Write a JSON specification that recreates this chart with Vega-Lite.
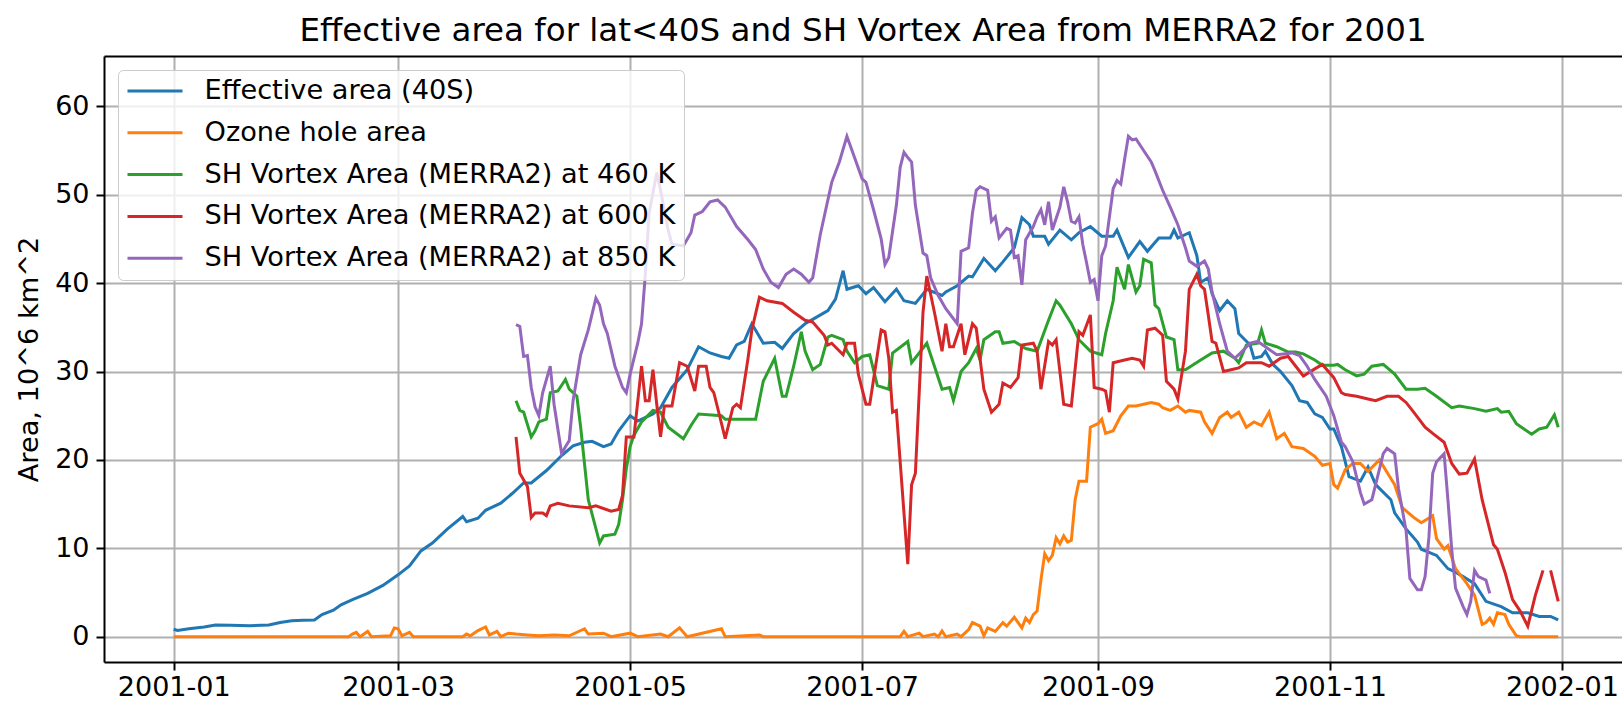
{
 "$schema": "https://vega.github.io/schema/vega-lite/v6.json",
 "width": 1518,
 "height": 606,
 "autosize": {"type": "none"},
 "padding": {"left": 104, "top": 56, "right": 0, "bottom": 45},
 "background": "white",
 "title": {"text": "Effective area for lat<40S and SH Vortex Area from MERRA2 for 2001", "font": "DejaVu Sans", "fontSize": 32.5, "fontWeight": "normal", "color": "black", "anchor": "middle", "baseline": "alphabetic", "offset": 11, "dy": 28},
 "config": {
  "font": "DejaVu Sans",
  "view": {"stroke": null},
  "axis": {"labelFont": "DejaVu Sans", "labelFontSize": 27, "labelColor": "black", "titleFont": "DejaVu Sans", "titleFontSize": 27.2, "titleFontWeight": "normal", "titleColor": "black", "domainColor": "black", "domainWidth": 2, "tickColor": "black", "tickWidth": 2, "tickSize": 8, "gridColor": "#b0b0b0", "gridWidth": 2, "gridOpacity": 1, "labelPadding": 7},
  "line": {"strokeWidth": 3}
 },
 "resolve": {"axis": {"x": "independent"}},
 "layer": [
  {
   "data": {"values": [
    {"t":"2001-01-01","v":0.84},{"t":"2001-01-02","v":0.7},{"t":"2001-01-05","v":0.9},{"t":"2001-01-09","v":1.1},{"t":"2001-01-12","v":1.33},{"t":"2001-01-16","v":1.3},{"t":"2001-01-21","v":1.25},{"t":"2001-01-26","v":1.33},{"t":"2001-01-29","v":1.6},{"t":"2001-02-01","v":1.8},{"t":"2001-02-04","v":1.85},{"t":"2001-02-07","v":1.9},{"t":"2001-02-09","v":2.5},{"t":"2001-02-12","v":3.0},{"t":"2001-02-14","v":3.6},{"t":"2001-02-17","v":4.2},{"t":"2001-02-21","v":4.9},{"t":"2001-02-25","v":5.8},{"t":"2001-03-01","v":7.0},{"t":"2001-03-04","v":8.0},{"t":"2001-03-07","v":9.7},{"t":"2001-03-10","v":10.6},{"t":"2001-03-14","v":12.2},{"t":"2001-03-18","v":13.6},{"t":"2001-03-19","v":13.0},{"t":"2001-03-22","v":13.4},{"t":"2001-03-24","v":14.3},{"t":"2001-03-28","v":15.1},{"t":"2001-03-31","v":16.2},{"t":"2001-04-03","v":17.4},{"t":"2001-04-05","v":17.4},{"t":"2001-04-09","v":18.8},{"t":"2001-04-13","v":20.5},{"t":"2001-04-16","v":21.6},{"t":"2001-04-19","v":22.0},{"t":"2001-04-21","v":22.1},{"t":"2001-04-24","v":21.5},{"t":"2001-04-26","v":21.8},{"t":"2001-04-28","v":23.3},{"t":"2001-05-01","v":25.0},{"t":"2001-05-03","v":24.4},{"t":"2001-05-07","v":25.2},{"t":"2001-05-09","v":25.9},{"t":"2001-05-12","v":28.2},{"t":"2001-05-16","v":30.2},{"t":"2001-05-19","v":32.8},{"t":"2001-05-22","v":32.1},{"t":"2001-05-25","v":31.7},{"t":"2001-05-27","v":31.5},{"t":"2001-05-29","v":33.0},{"t":"2001-05-31","v":33.4},{"t":"2001-06-02","v":35.4},{"t":"2001-06-05","v":33.2},{"t":"2001-06-08","v":33.3},{"t":"2001-06-10","v":32.6},{"t":"2001-06-13","v":34.3},{"t":"2001-06-16","v":35.4},{"t":"2001-06-18","v":35.9},{"t":"2001-06-22","v":36.9},{"t":"2001-06-24","v":38.2},{"t":"2001-06-26","v":41.4},{"t":"2001-06-27","v":39.3},{"t":"2001-06-30","v":39.7},{"t":"2001-07-02","v":38.8},{"t":"2001-07-04","v":39.5},{"t":"2001-07-07","v":37.9},{"t":"2001-07-10","v":39.3},{"t":"2001-07-12","v":38.0},{"t":"2001-07-15","v":37.7},{"t":"2001-07-18","v":39.3},{"t":"2001-07-22","v":38.6},{"t":"2001-07-23","v":39.0},{"t":"2001-07-26","v":39.7},{"t":"2001-07-29","v":40.8},{"t":"2001-07-30","v":40.7},{"t":"2001-08-02","v":42.8},{"t":"2001-08-05","v":41.4},{"t":"2001-08-07","v":42.4},{"t":"2001-08-10","v":44.0},{"t":"2001-08-12","v":47.4},{"t":"2001-08-14","v":46.6},{"t":"2001-08-15","v":45.3},{"t":"2001-08-18","v":45.3},{"t":"2001-08-19","v":44.4},{"t":"2001-08-22","v":46.0},{"t":"2001-08-25","v":44.9},{"t":"2001-08-27","v":45.7},{"t":"2001-08-30","v":46.4},{"t":"2001-09-02","v":45.3},{"t":"2001-09-05","v":45.3},{"t":"2001-09-06","v":46.0},{"t":"2001-09-09","v":42.9},{"t":"2001-09-12","v":44.7},{"t":"2001-09-14","v":43.6},{"t":"2001-09-17","v":45.1},{"t":"2001-09-20","v":45.1},{"t":"2001-09-21","v":46.0},{"t":"2001-09-22","v":45.1},{"t":"2001-09-25","v":45.7},{"t":"2001-09-27","v":43.1},{"t":"2001-09-28","v":40.1},{"t":"2001-09-30","v":40.6},{"t":"2001-10-01","v":38.8},{"t":"2001-10-03","v":36.9},{"t":"2001-10-05","v":38.0},{"t":"2001-10-07","v":37.1},{"t":"2001-10-08","v":34.3},{"t":"2001-10-11","v":33.0},{"t":"2001-10-12","v":31.5},{"t":"2001-10-14","v":31.7},{"t":"2001-10-15","v":32.3},{"t":"2001-10-17","v":30.8},{"t":"2001-10-19","v":30.0},{"t":"2001-10-22","v":28.4},{"t":"2001-10-24","v":26.7},{"t":"2001-10-26","v":26.5},{"t":"2001-10-28","v":25.2},{"t":"2001-10-30","v":24.8},{"t":"2001-11-01","v":23.5},{"t":"2001-11-02","v":23.5},{"t":"2001-11-04","v":21.5},{"t":"2001-11-06","v":18.1},{"t":"2001-11-09","v":17.6},{"t":"2001-11-11","v":19.2},{"t":"2001-11-13","v":17.2},{"t":"2001-11-17","v":15.5},{"t":"2001-11-18","v":14.0},{"t":"2001-11-21","v":12.2},{"t":"2001-11-24","v":10.7},{"t":"2001-11-25","v":9.9},{"t":"2001-11-29","v":9.2},{"t":"2001-12-02","v":7.7},{"t":"2001-12-04","v":7.3},{"t":"2001-12-06","v":6.8},{"t":"2001-12-09","v":6.0},{"t":"2001-12-12","v":4.0},{"t":"2001-12-16","v":3.4},{"t":"2001-12-19","v":2.7},{"t":"2001-12-23","v":2.7},{"t":"2001-12-26","v":2.3},{"t":"2001-12-29","v":2.3},{"t":"2001-12-31","v":1.9}
   ]},
   "mark": {"type": "line", "strokeWidth": 3},
   "encoding": {
    "x": {"field": "t", "type": "temporal", "title": null,
     "scale": {"type": "utc", "domain": [{"year": 2000, "month": 12, "date": 13, "hours": 16, "minutes": 19, "utc": true}, {"year": 2002, "month": 1, "date": 16, "hours": 18, "minutes": 29, "utc": true}], "nice": false},
     "axis": {"orient": "bottom", "grid": true, "format": "%Y-%m", "labelFlush": false, "labelOverlap": false, "labelPadding": 4,
      "values": [{"year": 2001, "month": 1, "date": 1, "utc": true}, {"year": 2001, "month": 3, "date": 1, "utc": true}, {"year": 2001, "month": 5, "date": 1, "utc": true}, {"year": 2001, "month": 7, "date": 1, "utc": true}, {"year": 2001, "month": 9, "date": 1, "utc": true}, {"year": 2001, "month": 11, "date": 1, "utc": true}, {"year": 2002, "month": 1, "date": 1, "utc": true}]}},
    "y": {"field": "v", "type": "quantitative", "title": "Area, 10^6 km^2",
     "scale": {"domain": [-2.86, 65.69], "nice": false, "zero": false},
     "axis": {"values": [0, 10, 20, 30, 40, 50, 60], "grid": true, "titlePadding": 11}},
    "color": {"datum": "Effective area (40S)", "type": "nominal",
     "scale": {"domain": ["Effective area (40S)", "Ozone hole area", "SH Vortex Area (MERRA2) at 460 K", "SH Vortex Area (MERRA2) at 600 K", "SH Vortex Area (MERRA2) at 850 K"], "range": ["#1f77b4", "#ff7f0e", "#2ca02c", "#d62728", "#9467bd"]},
     "legend": {"title": null, "orient": "top-left", "offset": 14, "zindex": 2, "symbolType": "stroke", "symbolSize": 3025, "symbolStrokeWidth": 3, "clipHeight": 26, "labelFont": "DejaVu Sans", "labelFontSize": 27.2, "labelColor": "black", "labelOffset": 20.5, "labelLimit": 0, "padding": 8, "rowPadding": 13.8, "fillColor": "rgba(255,255,255,0.8)", "strokeColor": "#cccccc", "cornerRadius": 5}}
   }
  },
  {
   "data": {"values": [
    {"t":"2001-01-01","v":0},{"t":"2001-02-16","v":0},{"t":"2001-02-17","v":0.3},{"t":"2001-02-18","v":0.5},{"t":"2001-02-19","v":0},{"t":"2001-02-21","v":0.6},{"t":"2001-02-22","v":0},{"t":"2001-02-27","v":0.1},{"t":"2001-02-28","v":1.0},{"t":"2001-03-01","v":0.9},{"t":"2001-03-02","v":0.1},{"t":"2001-03-04","v":0.5},{"t":"2001-03-05","v":0},{"t":"2001-03-18","v":0},{"t":"2001-03-19","v":0.3},{"t":"2001-03-20","v":0.1},{"t":"2001-03-22","v":0.7},{"t":"2001-03-24","v":1.1},{"t":"2001-03-25","v":0.2},{"t":"2001-03-27","v":0.6},{"t":"2001-03-28","v":0},{"t":"2001-03-30","v":0.4},{"t":"2001-04-01","v":0.3},{"t":"2001-04-04","v":0.2},{"t":"2001-04-07","v":0.1},{"t":"2001-04-11","v":0.2},{"t":"2001-04-15","v":0.1},{"t":"2001-04-19","v":0.9},{"t":"2001-04-20","v":0.3},{"t":"2001-04-24","v":0.4},{"t":"2001-04-26","v":0},{"t":"2001-05-01","v":0.4},{"t":"2001-05-03","v":0},{"t":"2001-05-09","v":0.3},{"t":"2001-05-11","v":0},{"t":"2001-05-14","v":1.0},{"t":"2001-05-16","v":0},{"t":"2001-05-25","v":0.9},{"t":"2001-05-26","v":0},{"t":"2001-06-04","v":0.2},{"t":"2001-06-05","v":0},{"t":"2001-07-11","v":0},{"t":"2001-07-12","v":0.6},{"t":"2001-07-13","v":0},{"t":"2001-07-16","v":0.4},{"t":"2001-07-17","v":0},{"t":"2001-07-20","v":0.3},{"t":"2001-07-21","v":0},{"t":"2001-07-22","v":0.65},{"t":"2001-07-23","v":0},{"t":"2001-07-26","v":0.3},{"t":"2001-07-27","v":0},{"t":"2001-07-29","v":0.8},{"t":"2001-07-30","v":1.6},{"t":"2001-08-01","v":1.2},{"t":"2001-08-02","v":0.1},{"t":"2001-08-03","v":1.0},{"t":"2001-08-05","v":0.6},{"t":"2001-08-07","v":1.6},{"t":"2001-08-08","v":1.2},{"t":"2001-08-10","v":2.2},{"t":"2001-08-12","v":1.0},{"t":"2001-08-13","v":2.1},{"t":"2001-08-14","v":1.6},{"t":"2001-08-15","v":2.5},{"t":"2001-08-16","v":2.9},{"t":"2001-08-17","v":6.4},{"t":"2001-08-18","v":9.4},{"t":"2001-08-19","v":8.6},{"t":"2001-08-20","v":9.2},{"t":"2001-08-21","v":11.2},{"t":"2001-08-22","v":10.5},{"t":"2001-08-23","v":11.4},{"t":"2001-08-24","v":10.7},{"t":"2001-08-25","v":10.9},{"t":"2001-08-26","v":15.5},{"t":"2001-08-27","v":17.6},{"t":"2001-08-29","v":17.6},{"t":"2001-08-30","v":23.7},{"t":"2001-09-01","v":24.1},{"t":"2001-09-02","v":24.6},{"t":"2001-09-03","v":23.0},{"t":"2001-09-05","v":23.3},{"t":"2001-09-07","v":25.0},{"t":"2001-09-09","v":26.1},{"t":"2001-09-11","v":26.1},{"t":"2001-09-13","v":26.3},{"t":"2001-09-15","v":26.5},{"t":"2001-09-17","v":26.3},{"t":"2001-09-18","v":25.9},{"t":"2001-09-20","v":25.6},{"t":"2001-09-22","v":26.1},{"t":"2001-09-24","v":25.4},{"t":"2001-09-25","v":25.6},{"t":"2001-09-28","v":25.4},{"t":"2001-09-29","v":24.3},{"t":"2001-10-01","v":23.0},{"t":"2001-10-03","v":24.8},{"t":"2001-10-05","v":25.4},{"t":"2001-10-06","v":24.8},{"t":"2001-10-08","v":25.4},{"t":"2001-10-10","v":23.7},{"t":"2001-10-12","v":24.3},{"t":"2001-10-14","v":23.9},{"t":"2001-10-16","v":25.4},{"t":"2001-10-18","v":22.4},{"t":"2001-10-20","v":23.0},{"t":"2001-10-22","v":21.5},{"t":"2001-10-25","v":21.3},{"t":"2001-10-28","v":20.4},{"t":"2001-10-30","v":19.4},{"t":"2001-11-01","v":19.6},{"t":"2001-11-02","v":17.2},{"t":"2001-11-03","v":16.8},{"t":"2001-11-05","v":18.9},{"t":"2001-11-07","v":19.6},{"t":"2001-11-09","v":19.6},{"t":"2001-11-11","v":18.7},{"t":"2001-11-14","v":20.0},{"t":"2001-11-17","v":17.9},{"t":"2001-11-18","v":17.2},{"t":"2001-11-20","v":14.6},{"t":"2001-11-23","v":13.5},{"t":"2001-11-25","v":12.9},{"t":"2001-11-28","v":13.7},{"t":"2001-11-29","v":11.1},{"t":"2001-12-01","v":9.9},{"t":"2001-12-02","v":10.3},{"t":"2001-12-04","v":7.7},{"t":"2001-12-07","v":6.0},{"t":"2001-12-09","v":4.7},{"t":"2001-12-11","v":1.4},{"t":"2001-12-12","v":1.6},{"t":"2001-12-13","v":2.1},{"t":"2001-12-14","v":1.4},{"t":"2001-12-15","v":2.7},{"t":"2001-12-17","v":2.5},{"t":"2001-12-18","v":1.4},{"t":"2001-12-20","v":0.1},{"t":"2001-12-21","v":0},{"t":"2001-12-31","v":0}
   ]},
   "mark": {"type": "line", "strokeWidth": 3},
   "encoding": {
    "x": {"field": "t", "type": "temporal", "axis": {"orient": "top", "labels": false, "ticks": false, "grid": false, "domain": true, "title": null}},
    "y": {"field": "v", "type": "quantitative"},
    "color": {"datum": "Ozone hole area", "type": "nominal"}
   }
  },
  {
   "data": {"values": [
    {"t":"2001-04-01","v":26.7},{"t":"2001-04-02","v":25.6},{"t":"2001-04-03","v":25.4},{"t":"2001-04-05","v":22.6},{"t":"2001-04-06","v":23.3},{"t":"2001-04-07","v":24.3},{"t":"2001-04-09","v":24.6},{"t":"2001-04-10","v":27.6},{"t":"2001-04-12","v":27.8},{"t":"2001-04-14","v":29.1},{"t":"2001-04-15","v":28.0},{"t":"2001-04-17","v":27.2},{"t":"2001-04-18","v":23.7},{"t":"2001-04-20","v":15.5},{"t":"2001-04-23","v":10.6},{"t":"2001-04-24","v":11.4},{"t":"2001-04-27","v":11.6},{"t":"2001-04-28","v":12.7},{"t":"2001-04-29","v":15.5},{"t":"2001-04-30","v":19.0},{"t":"2001-05-01","v":21.5},{"t":"2001-05-02","v":22.8},{"t":"2001-05-04","v":24.3},{"t":"2001-05-07","v":25.6},{"t":"2001-05-09","v":25.4},{"t":"2001-05-11","v":23.7},{"t":"2001-05-15","v":22.4},{"t":"2001-05-17","v":23.9},{"t":"2001-05-19","v":25.2},{"t":"2001-05-25","v":25.0},{"t":"2001-05-26","v":24.6},{"t":"2001-06-03","v":24.6},{"t":"2001-06-05","v":28.9},{"t":"2001-06-08","v":31.5},{"t":"2001-06-10","v":27.2},{"t":"2001-06-11","v":27.2},{"t":"2001-06-13","v":30.6},{"t":"2001-06-15","v":34.5},{"t":"2001-06-16","v":32.3},{"t":"2001-06-18","v":30.2},{"t":"2001-06-20","v":30.8},{"t":"2001-06-22","v":33.9},{"t":"2001-06-23","v":34.1},{"t":"2001-06-26","v":33.6},{"t":"2001-06-27","v":32.3},{"t":"2001-06-29","v":31.0},{"t":"2001-07-01","v":31.7},{"t":"2001-07-03","v":31.9},{"t":"2001-07-05","v":28.4},{"t":"2001-07-08","v":28.0},{"t":"2001-07-09","v":32.1},{"t":"2001-07-13","v":33.4},{"t":"2001-07-14","v":31.0},{"t":"2001-07-18","v":33.2},{"t":"2001-07-19","v":31.9},{"t":"2001-07-22","v":28.0},{"t":"2001-07-24","v":28.2},{"t":"2001-07-25","v":26.7},{"t":"2001-07-27","v":30.0},{"t":"2001-07-29","v":31.0},{"t":"2001-07-31","v":32.6},{"t":"2001-08-01","v":31.3},{"t":"2001-08-02","v":33.6},{"t":"2001-08-05","v":34.5},{"t":"2001-08-06","v":34.5},{"t":"2001-08-07","v":33.2},{"t":"2001-08-10","v":33.4},{"t":"2001-08-13","v":32.6},{"t":"2001-08-16","v":32.3},{"t":"2001-08-19","v":35.8},{"t":"2001-08-21","v":38.0},{"t":"2001-08-22","v":37.5},{"t":"2001-08-25","v":35.4},{"t":"2001-08-27","v":33.6},{"t":"2001-08-30","v":32.3},{"t":"2001-09-02","v":31.9},{"t":"2001-09-03","v":34.3},{"t":"2001-09-05","v":38.0},{"t":"2001-09-06","v":41.8},{"t":"2001-09-08","v":39.3},{"t":"2001-09-09","v":42.1},{"t":"2001-09-11","v":39.0},{"t":"2001-09-12","v":39.7},{"t":"2001-09-13","v":42.7},{"t":"2001-09-15","v":42.3},{"t":"2001-09-16","v":37.5},{"t":"2001-09-17","v":37.1},{"t":"2001-09-19","v":33.9},{"t":"2001-09-21","v":33.6},{"t":"2001-09-22","v":30.2},{"t":"2001-09-24","v":30.2},{"t":"2001-09-28","v":31.3},{"t":"2001-10-01","v":32.1},{"t":"2001-10-04","v":32.3},{"t":"2001-10-07","v":31.5},{"t":"2001-10-08","v":31.0},{"t":"2001-10-10","v":33.0},{"t":"2001-10-13","v":33.2},{"t":"2001-10-14","v":34.7},{"t":"2001-10-15","v":33.2},{"t":"2001-10-18","v":32.8},{"t":"2001-10-21","v":32.2},{"t":"2001-10-23","v":32.2},{"t":"2001-10-25","v":32.0},{"t":"2001-10-28","v":31.3},{"t":"2001-10-30","v":30.7},{"t":"2001-11-02","v":30.7},{"t":"2001-11-03","v":30.8},{"t":"2001-11-05","v":30.2},{"t":"2001-11-08","v":29.5},{"t":"2001-11-10","v":29.7},{"t":"2001-11-12","v":30.6},{"t":"2001-11-15","v":30.8},{"t":"2001-11-18","v":29.7},{"t":"2001-11-21","v":28.0},{"t":"2001-11-24","v":28.0},{"t":"2001-11-26","v":28.1},{"t":"2001-11-29","v":27.2},{"t":"2001-12-03","v":25.9},{"t":"2001-12-05","v":26.1},{"t":"2001-12-09","v":25.8},{"t":"2001-12-12","v":25.5},{"t":"2001-12-15","v":25.8},{"t":"2001-12-16","v":25.4},{"t":"2001-12-18","v":25.5},{"t":"2001-12-20","v":24.1},{"t":"2001-12-22","v":23.5},{"t":"2001-12-24","v":22.9},{"t":"2001-12-26","v":23.5},{"t":"2001-12-28","v":23.7},{"t":"2001-12-30","v":25.1},{"t":"2001-12-31","v":23.7}
   ]},
   "mark": {"type": "line", "strokeWidth": 3},
   "encoding": {
    "x": {"field": "t", "type": "temporal", "axis": null},
    "y": {"field": "v", "type": "quantitative"},
    "color": {"datum": "SH Vortex Area (MERRA2) at 460 K", "type": "nominal"}
   }
  },
  {
   "data": {"values": [
    {"t":"2001-04-01","v":22.6},{"t":"2001-04-02","v":18.5},{"t":"2001-04-04","v":17.0},{"t":"2001-04-05","v":13.5},{"t":"2001-04-06","v":14.0},{"t":"2001-04-08","v":14.0},{"t":"2001-04-09","v":13.7},{"t":"2001-04-10","v":14.8},{"t":"2001-04-12","v":15.1},{"t":"2001-04-15","v":14.8},{"t":"2001-04-20","v":14.6},{"t":"2001-04-22","v":14.8},{"t":"2001-04-26","v":14.2},{"t":"2001-04-28","v":14.4},{"t":"2001-04-29","v":16.0},{"t":"2001-04-30","v":22.6},{"t":"2001-05-02","v":22.6},{"t":"2001-05-04","v":30.6},{"t":"2001-05-05","v":26.7},{"t":"2001-05-06","v":26.7},{"t":"2001-05-07","v":30.2},{"t":"2001-05-08","v":26.3},{"t":"2001-05-09","v":22.6},{"t":"2001-05-10","v":26.1},{"t":"2001-05-12","v":26.1},{"t":"2001-05-14","v":31.0},{"t":"2001-05-16","v":30.6},{"t":"2001-05-18","v":27.8},{"t":"2001-05-19","v":30.6},{"t":"2001-05-21","v":30.6},{"t":"2001-05-22","v":28.2},{"t":"2001-05-23","v":27.6},{"t":"2001-05-24","v":25.9},{"t":"2001-05-26","v":22.4},{"t":"2001-05-28","v":25.9},{"t":"2001-05-29","v":26.3},{"t":"2001-05-30","v":25.9},{"t":"2001-06-01","v":31.5},{"t":"2001-06-02","v":34.7},{"t":"2001-06-04","v":38.4},{"t":"2001-06-06","v":38.0},{"t":"2001-06-10","v":37.7},{"t":"2001-06-13","v":36.7},{"t":"2001-06-16","v":35.8},{"t":"2001-06-18","v":35.6},{"t":"2001-06-21","v":34.1},{"t":"2001-06-22","v":33.0},{"t":"2001-06-23","v":33.2},{"t":"2001-06-26","v":31.9},{"t":"2001-06-27","v":33.2},{"t":"2001-06-29","v":33.2},{"t":"2001-06-30","v":29.7},{"t":"2001-07-02","v":26.3},{"t":"2001-07-03","v":26.3},{"t":"2001-07-06","v":34.7},{"t":"2001-07-07","v":34.5},{"t":"2001-07-08","v":31.5},{"t":"2001-07-09","v":25.4},{"t":"2001-07-10","v":25.6},{"t":"2001-07-13","v":8.2},{"t":"2001-07-14","v":17.2},{"t":"2001-07-15","v":18.5},{"t":"2001-07-17","v":36.7},{"t":"2001-07-18","v":40.8},{"t":"2001-07-20","v":36.7},{"t":"2001-07-22","v":32.3},{"t":"2001-07-23","v":35.4},{"t":"2001-07-24","v":32.8},{"t":"2001-07-25","v":32.8},{"t":"2001-07-27","v":35.4},{"t":"2001-07-28","v":31.9},{"t":"2001-07-30","v":35.4},{"t":"2001-07-31","v":34.9},{"t":"2001-08-02","v":28.0},{"t":"2001-08-04","v":25.4},{"t":"2001-08-06","v":26.3},{"t":"2001-08-07","v":28.7},{"t":"2001-08-09","v":28.2},{"t":"2001-08-11","v":29.3},{"t":"2001-08-12","v":33.0},{"t":"2001-08-15","v":33.2},{"t":"2001-08-16","v":32.3},{"t":"2001-08-17","v":28.0},{"t":"2001-08-19","v":33.4},{"t":"2001-08-20","v":33.0},{"t":"2001-08-21","v":33.6},{"t":"2001-08-23","v":26.3},{"t":"2001-08-25","v":26.1},{"t":"2001-08-27","v":34.5},{"t":"2001-08-28","v":34.1},{"t":"2001-08-30","v":36.4},{"t":"2001-08-31","v":28.2},{"t":"2001-09-02","v":28.0},{"t":"2001-09-03","v":27.8},{"t":"2001-09-04","v":25.4},{"t":"2001-09-05","v":31.0},{"t":"2001-09-08","v":31.3},{"t":"2001-09-10","v":31.5},{"t":"2001-09-12","v":31.3},{"t":"2001-09-13","v":30.6},{"t":"2001-09-14","v":34.7},{"t":"2001-09-16","v":34.9},{"t":"2001-09-18","v":34.1},{"t":"2001-09-19","v":28.9},{"t":"2001-09-21","v":28.0},{"t":"2001-09-22","v":26.9},{"t":"2001-09-24","v":32.3},{"t":"2001-09-25","v":39.3},{"t":"2001-09-27","v":41.0},{"t":"2001-09-28","v":39.7},{"t":"2001-09-29","v":39.3},{"t":"2001-09-30","v":36.4},{"t":"2001-10-01","v":33.4},{"t":"2001-10-02","v":33.2},{"t":"2001-10-04","v":30.0},{"t":"2001-10-06","v":30.2},{"t":"2001-10-08","v":30.4},{"t":"2001-10-10","v":31.0},{"t":"2001-10-14","v":31.0},{"t":"2001-10-16","v":30.6},{"t":"2001-10-19","v":31.5},{"t":"2001-10-21","v":31.7},{"t":"2001-10-23","v":30.6},{"t":"2001-10-25","v":29.5},{"t":"2001-10-28","v":30.3},{"t":"2001-10-30","v":30.8},{"t":"2001-11-02","v":29.3},{"t":"2001-11-04","v":27.6},{"t":"2001-11-05","v":27.4},{"t":"2001-11-08","v":27.2},{"t":"2001-11-11","v":26.9},{"t":"2001-11-13","v":26.7},{"t":"2001-11-16","v":27.2},{"t":"2001-11-19","v":27.2},{"t":"2001-11-21","v":26.5},{"t":"2001-11-23","v":25.4},{"t":"2001-11-26","v":23.7},{"t":"2001-11-28","v":23.0},{"t":"2001-12-01","v":22.0},{"t":"2001-12-03","v":19.6},{"t":"2001-12-05","v":18.4},{"t":"2001-12-07","v":18.5},{"t":"2001-12-09","v":20.1},{"t":"2001-12-11","v":15.5},{"t":"2001-12-14","v":10.4},{"t":"2001-12-15","v":9.9},{"t":"2001-12-17","v":7.3},{"t":"2001-12-19","v":4.2},{"t":"2001-12-21","v":2.9},{"t":"2001-12-23","v":1.2},{"t":"2001-12-25","v":4.7},{"t":"2001-12-27","v":7.5},{"t":"2001-12-28","v":null},{"t":"2001-12-29","v":7.5},{"t":"2001-12-31","v":4.0}
   ]},
   "mark": {"type": "line", "strokeWidth": 3, "invalid": "break-paths-show-domains"},
   "encoding": {
    "x": {"field": "t", "type": "temporal", "axis": null},
    "y": {"field": "v", "type": "quantitative"},
    "color": {"datum": "SH Vortex Area (MERRA2) at 600 K", "type": "nominal"}
   }
  },
  {
   "data": {"values": [
    {"t":"2001-04-01","v":35.3},{"t":"2001-04-02","v":35.1},{"t":"2001-04-03","v":31.7},{"t":"2001-04-04","v":31.8},{"t":"2001-04-05","v":28.2},{"t":"2001-04-06","v":26.0},{"t":"2001-04-07","v":25.0},{"t":"2001-04-08","v":27.6},{"t":"2001-04-10","v":30.6},{"t":"2001-04-11","v":26.3},{"t":"2001-04-13","v":20.7},{"t":"2001-04-14","v":21.5},{"t":"2001-04-15","v":22.2},{"t":"2001-04-16","v":26.7},{"t":"2001-04-18","v":31.9},{"t":"2001-04-20","v":34.7},{"t":"2001-04-22","v":38.3},{"t":"2001-04-23","v":37.5},{"t":"2001-04-24","v":35.4},{"t":"2001-04-25","v":34.3},{"t":"2001-04-27","v":30.6},{"t":"2001-04-29","v":28.2},{"t":"2001-04-30","v":27.6},{"t":"2001-05-01","v":29.7},{"t":"2001-05-03","v":33.2},{"t":"2001-05-04","v":35.4},{"t":"2001-05-05","v":41.0},{"t":"2001-05-06","v":47.9},{"t":"2001-05-08","v":52.5},{"t":"2001-05-09","v":50.5},{"t":"2001-05-11","v":46.0},{"t":"2001-05-12","v":44.4},{"t":"2001-05-15","v":44.2},{"t":"2001-05-17","v":45.7},{"t":"2001-05-18","v":47.7},{"t":"2001-05-20","v":48.1},{"t":"2001-05-22","v":49.2},{"t":"2001-05-24","v":49.4},{"t":"2001-05-26","v":48.6},{"t":"2001-05-29","v":46.4},{"t":"2001-06-01","v":44.9},{"t":"2001-06-03","v":43.8},{"t":"2001-06-05","v":41.6},{"t":"2001-06-07","v":40.1},{"t":"2001-06-09","v":39.5},{"t":"2001-06-11","v":41.0},{"t":"2001-06-13","v":41.6},{"t":"2001-06-15","v":41.0},{"t":"2001-06-17","v":40.1},{"t":"2001-06-18","v":40.6},{"t":"2001-06-20","v":45.5},{"t":"2001-06-23","v":51.4},{"t":"2001-06-25","v":53.7},{"t":"2001-06-27","v":56.6},{"t":"2001-06-29","v":54.2},{"t":"2001-07-01","v":51.8},{"t":"2001-07-02","v":51.4},{"t":"2001-07-04","v":48.3},{"t":"2001-07-06","v":45.0},{"t":"2001-07-07","v":42.1},{"t":"2001-07-08","v":42.9},{"t":"2001-07-10","v":48.8},{"t":"2001-07-11","v":53.1},{"t":"2001-07-12","v":54.8},{"t":"2001-07-13","v":54.2},{"t":"2001-07-14","v":53.7},{"t":"2001-07-15","v":48.8},{"t":"2001-07-17","v":43.4},{"t":"2001-07-18","v":43.1},{"t":"2001-07-19","v":40.6},{"t":"2001-07-21","v":38.6},{"t":"2001-07-23","v":37.1},{"t":"2001-07-26","v":35.4},{"t":"2001-07-27","v":43.6},{"t":"2001-07-29","v":44.0},{"t":"2001-07-30","v":47.9},{"t":"2001-07-31","v":50.5},{"t":"2001-08-01","v":50.9},{"t":"2001-08-03","v":50.5},{"t":"2001-08-04","v":47.0},{"t":"2001-08-05","v":47.5},{"t":"2001-08-06","v":45.1},{"t":"2001-08-08","v":46.2},{"t":"2001-08-09","v":46.0},{"t":"2001-08-10","v":42.9},{"t":"2001-08-11","v":43.1},{"t":"2001-08-12","v":39.8},{"t":"2001-08-13","v":44.9},{"t":"2001-08-15","v":46.4},{"t":"2001-08-16","v":47.5},{"t":"2001-08-17","v":48.3},{"t":"2001-08-18","v":46.6},{"t":"2001-08-19","v":49.2},{"t":"2001-08-20","v":46.0},{"t":"2001-08-22","v":48.6},{"t":"2001-08-23","v":50.9},{"t":"2001-08-24","v":49.2},{"t":"2001-08-25","v":47.0},{"t":"2001-08-26","v":46.8},{"t":"2001-08-27","v":47.5},{"t":"2001-08-28","v":44.4},{"t":"2001-08-29","v":42.3},{"t":"2001-08-30","v":40.1},{"t":"2001-08-31","v":40.4},{"t":"2001-09-01","v":38.0},{"t":"2001-09-02","v":43.1},{"t":"2001-09-03","v":44.2},{"t":"2001-09-05","v":50.7},{"t":"2001-09-06","v":51.6},{"t":"2001-09-07","v":51.2},{"t":"2001-09-08","v":54.0},{"t":"2001-09-09","v":56.6},{"t":"2001-09-10","v":56.2},{"t":"2001-09-11","v":56.3},{"t":"2001-09-13","v":55.0},{"t":"2001-09-15","v":53.7},{"t":"2001-09-16","v":52.7},{"t":"2001-09-18","v":50.5},{"t":"2001-09-20","v":48.6},{"t":"2001-09-22","v":46.6},{"t":"2001-09-24","v":44.0},{"t":"2001-09-25","v":42.5},{"t":"2001-09-27","v":41.9},{"t":"2001-09-29","v":42.5},{"t":"2001-09-30","v":41.6},{"t":"2001-10-01","v":39.0},{"t":"2001-10-03","v":35.4},{"t":"2001-10-05","v":32.3},{"t":"2001-10-07","v":31.5},{"t":"2001-10-08","v":31.9},{"t":"2001-10-11","v":33.2},{"t":"2001-10-13","v":33.4},{"t":"2001-10-15","v":32.8},{"t":"2001-10-18","v":31.9},{"t":"2001-10-22","v":32.1},{"t":"2001-10-24","v":31.8},{"t":"2001-10-26","v":30.6},{"t":"2001-10-28","v":29.1},{"t":"2001-10-31","v":27.2},{"t":"2001-11-02","v":25.0},{"t":"2001-11-04","v":22.0},{"t":"2001-11-05","v":21.5},{"t":"2001-11-07","v":19.8},{"t":"2001-11-09","v":16.3},{"t":"2001-11-10","v":15.0},{"t":"2001-11-12","v":15.5},{"t":"2001-11-13","v":17.2},{"t":"2001-11-15","v":20.7},{"t":"2001-11-16","v":21.3},{"t":"2001-11-18","v":20.7},{"t":"2001-11-19","v":16.8},{"t":"2001-11-21","v":12.0},{"t":"2001-11-22","v":6.6},{"t":"2001-11-24","v":5.3},{"t":"2001-11-25","v":5.3},{"t":"2001-11-26","v":6.8},{"t":"2001-11-27","v":11.2},{"t":"2001-11-28","v":18.5},{"t":"2001-11-29","v":19.8},{"t":"2001-12-01","v":20.7},{"t":"2001-12-02","v":15.5},{"t":"2001-12-03","v":9.9},{"t":"2001-12-04","v":5.5},{"t":"2001-12-06","v":3.4},{"t":"2001-12-07","v":2.5},{"t":"2001-12-08","v":4.0},{"t":"2001-12-09","v":7.5},{"t":"2001-12-10","v":6.8},{"t":"2001-12-12","v":6.4},{"t":"2001-12-13","v":4.9}
   ]},
   "mark": {"type": "line", "strokeWidth": 3},
   "encoding": {
    "x": {"field": "t", "type": "temporal", "axis": null},
    "y": {"field": "v", "type": "quantitative"},
    "color": {"datum": "SH Vortex Area (MERRA2) at 850 K", "type": "nominal"}
   }
  }
 ]
}
